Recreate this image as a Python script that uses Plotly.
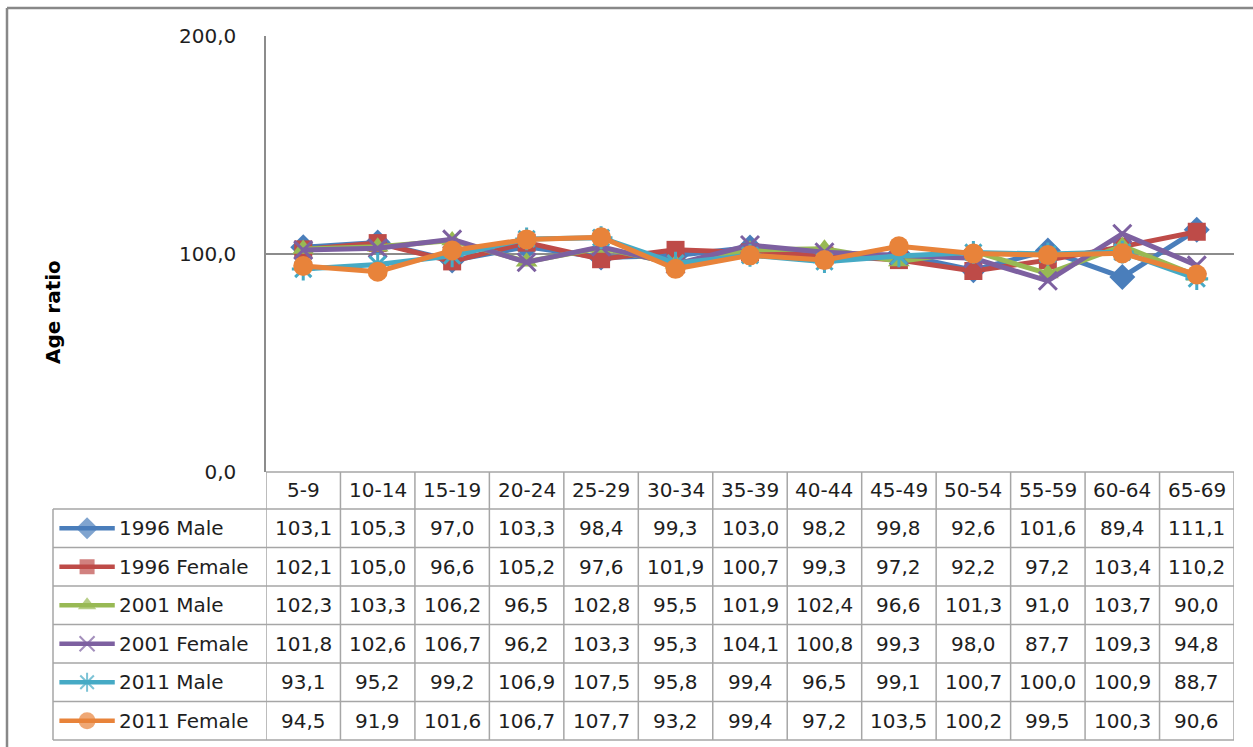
import plotly.graph_objects as go

# Age groups (columns of the data table / x categories)
age_groups = ["5-9", "10-14", "15-19", "20-24", "25-29", "30-34", "35-39",
              "40-44", "45-49", "50-54", "55-59", "60-64", "65-69"]

# Series names
series_names = ["1996 Male", "1996 Female", "2001 Male",
                "2001 Female", "2011 Male", "2011 Female"]

# Age ratio values per series
male_1996 = [103.1, 105.3, 97.0, 103.3, 98.4, 99.3, 103.0, 98.2, 99.8, 92.6, 101.6, 89.4, 111.1]
female_1996 = [102.1, 105.0, 96.6, 105.2, 97.6, 101.9, 100.7, 99.3, 97.2, 92.2, 97.2, 103.4, 110.2]
male_2001 = [102.3, 103.3, 106.2, 96.5, 102.8, 95.5, 101.9, 102.4, 96.6, 101.3, 91.0, 103.7, 90.0]
female_2001 = [101.8, 102.6, 106.7, 96.2, 103.3, 95.3, 104.1, 100.8, 99.3, 98.0, 87.7, 109.3, 94.8]
male_2011 = [93.1, 95.2, 99.2, 106.9, 107.5, 95.8, 99.4, 96.5, 99.1, 100.7, 100.0, 100.9, 88.7]
female_2011 = [94.5, 91.9, 101.6, 106.7, 107.7, 93.2, 99.4, 97.2, 103.5, 100.2, 99.5, 100.3, 90.6]

# Y axis ticks
y_ticks = [0, 100, 200]

series_values = [male_1996, female_1996, male_2001, female_2001, male_2011, female_2011]

# Styling per series: (line colour, marker symbol, marker size, filled?)
styles = [
    ("#4A7EBB", "diamond", 20, True),
    ("#BE4B48", "square", 18, True),
    ("#98B954", "triangle-up", 19, True),
    ("#7D60A0", "x-thin", 18, False),
    ("#46AAC5", "asterisk", 19, False),
    ("#E8833A", "circle", 20, True),
]

W, H = 1253, 747
FONT = "DejaVu Sans"
TEXT = "#1E1E1E"
GRID = "#8C8C8C"
TABLE_LINE = "#A6A6A6"


def px(x):
    return x / W


def py(y):
    return 1 - y / H


# Layout geometry (pixels)
plot_left, plot_right = 266, 1234
plot_top, plot_bottom = 36, 472
header_bottom = 509
table_bottom = 740
legend_left = 53
row_h = (table_bottom - header_bottom) / len(series_names)

fig = go.Figure()

for name, vals, (col, sym, size, filled) in zip(series_names, series_values, styles):
    marker = dict(symbol=sym, size=size, color=col,
                  line=dict(color=col, width=3 if not filled else 0))
    fig.add_trace(go.Scatter(
        x=age_groups, y=vals, name=name, mode="lines+markers",
        line=dict(color=col, width=5), marker=marker,
        xaxis="x", yaxis="y", showlegend=False, cliponaxis=False,
    ))

# Legend keys inside the table's first column
for i, (name, (col, sym, size, filled)) in enumerate(zip(series_names, styles)):
    key_size = size - 3
    fig.add_trace(go.Scatter(
        x=[0.03, 0.16, 0.29], y=[i, i, i], mode="lines+markers",
        line=dict(color=col, width=4.5),
        marker=dict(symbol=sym, size=[0, key_size, 0], color=col,
                    line=dict(color=col, width=2 if not filled else 0)),
        xaxis="x2", yaxis="y2", showlegend=False, hoverinfo="skip",
    ))

shapes = []
annotations = []

# Outer chart border
shapes.append(dict(type="line", xref="paper", yref="paper",
                   x0=px(7), x1=1.0, y0=py(8), y1=py(8),
                   line=dict(color="#888888", width=2.5)))
shapes.append(dict(type="line", xref="paper", yref="paper",
                   x0=px(7), x1=px(7), y0=py(8), y1=0,
                   line=dict(color="#888888", width=2.5)))

# Data table grid: vertical lines at category boundaries
for k in range(len(age_groups) + 1):
    shapes.append(dict(type="line", xref="x", yref="paper",
                       x0=k - 0.5, x1=k - 0.5,
                       y0=py(plot_bottom), y1=py(table_bottom),
                       line=dict(color=TABLE_LINE, width=1.5)))
shapes.append(dict(type="line", xref="paper", yref="paper",
                   x0=px(legend_left), x1=px(legend_left),
                   y0=py(header_bottom), y1=py(table_bottom),
                   line=dict(color=TABLE_LINE, width=1.5)))
# Horizontal lines
shapes.append(dict(type="line", xref="paper", yref="paper",
                   x0=px(plot_left), x1=px(plot_right),
                   y0=py(plot_bottom), y1=py(plot_bottom),
                   line=dict(color=TABLE_LINE, width=1.5)))
for r in range(len(series_names) + 1):
    yy = header_bottom + r * row_h
    shapes.append(dict(type="line", xref="paper", yref="paper",
                       x0=px(legend_left), x1=px(plot_right),
                       y0=py(yy), y1=py(yy),
                       line=dict(color=TABLE_LINE, width=1.5)))

# Header row: age groups
for g in age_groups:
    annotations.append(dict(x=g, xref="x", y=py((plot_bottom + header_bottom) / 2),
                            yref="paper", text=g, showarrow=False,
                            font=dict(family=FONT, size=20, color=TEXT),
                            xanchor="center", yanchor="middle"))

# Value cells
for r, (name, vals) in enumerate(zip(series_names, series_values)):
    yc = py(header_bottom + (r + 0.5) * row_h)
    for g, v in zip(age_groups, vals):
        annotations.append(dict(x=g, xref="x", y=yc, yref="paper",
                                text=f"{v:.1f}".replace(".", ","), showarrow=False,
                                font=dict(family=FONT, size=20, color=TEXT),
                                xanchor="center", yanchor="middle"))
    # Row label next to the legend key
    annotations.append(dict(x=px(117), xref="paper", y=yc, yref="paper",
                            text=name, showarrow=False,
                            font=dict(family=FONT, size=20, color=TEXT),
                            xanchor="left", yanchor="middle"))

# Y axis title
annotations.append(dict(x=px(53), xref="paper", y=py(312), yref="paper",
                        text="<b>Age ratio</b>", textangle=-90, showarrow=False,
                        font=dict(family=FONT, size=20, color="#000000"),
                        xanchor="center", yanchor="middle"))

fig.update_layout(
    template="none",
    width=W, height=H, autosize=False,
    margin=dict(l=0, r=0, t=0, b=0, pad=0, autoexpand=False),
    paper_bgcolor="white", plot_bgcolor="white",
    separators=",.",
    font=dict(family=FONT, size=20, color=TEXT),
    xaxis=dict(domain=[px(plot_left), px(plot_right)], type="category",
               categoryorder="array", categoryarray=age_groups,
               range=[-0.5, len(age_groups) - 0.5], automargin=False,
               showticklabels=False, showgrid=False, zeroline=False,
               showline=False, ticks=""),
    yaxis=dict(domain=[py(plot_bottom), py(plot_top)], range=[0, 200],
               tickvals=y_ticks, tickformat=".1f", automargin=False,
               showgrid=True, gridcolor=GRID, gridwidth=1.5,
               zeroline=False, showline=True, linecolor=GRID, linewidth=1.5,
               ticks="", ticklabelstandoff=24,
               tickfont=dict(family=FONT, size=20, color=TEXT)),
    xaxis2=dict(domain=[px(legend_left), px(plot_left)], range=[0, 1],
                visible=False, anchor="y2"),
    yaxis2=dict(domain=[py(table_bottom), py(header_bottom)],
                range=[len(series_names) - 0.5, -0.5],
                visible=False, anchor="x2"),
    shapes=shapes,
    annotations=annotations,
)

fig.write_html("out.html")
